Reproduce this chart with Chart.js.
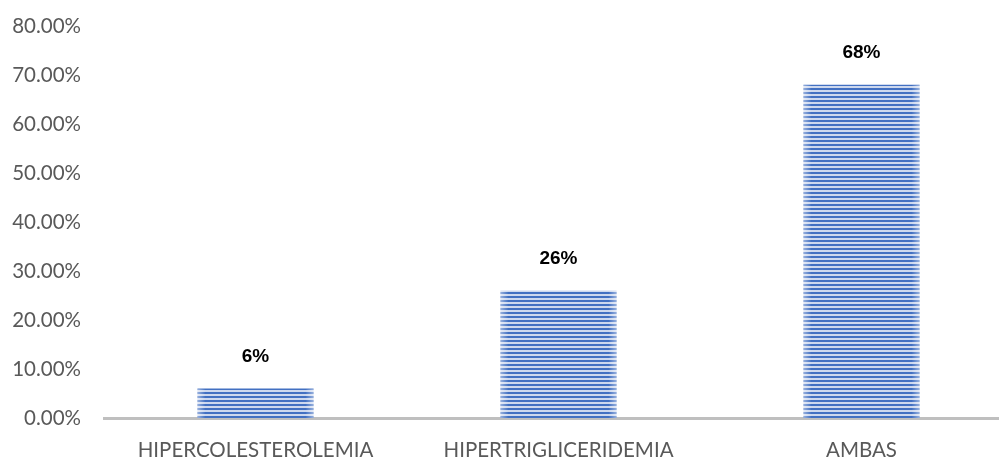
<!DOCTYPE html>
<html lang="es">
  <head>
    <meta charset="UTF-8" />
    <title>Dislipidemia</title>
    <script src="https://cdn.jsdelivr.net/npm/chart.js"></script>
    <style>
      html,
      body {
        margin: 0;
        padding: 0;
        background: #fff;
        overflow: hidden;
      }

      .wrap {
        width: 1013px;
        height: 460px;
        position: relative;
      }
    </style>
  </head>
  <body>
    <div class="wrap">
      <canvas id="chart"></canvas>
    </div>

    <script>
      const categories = ["HIPERCOLESTEROLEMIA", "HIPERTRIGLICERIDEMIA", "AMBAS"];
      const values = [6, 26, 68];
      const valueLabels = ["6%", "26%", "68%"];
      const yMax = 80;
      const yStep = 10;

      // horizontal stripes like the original fill
      function stripePattern(ctx) {
        const c = document.createElement("canvas");
        c.width = 1;
        c.height = 4;
        const p = c.getContext("2d");
        p.fillStyle = "#4270c2";
        p.fillRect(0, 0, 1, 2);
        p.fillStyle = "#cdd8ee";
        p.fillRect(0, 2, 1, 2);
        return ctx.createPattern(c, "repeat");
      }

      // light fade on the bar sides + value labels on top
      const barExtras = {
        id: "barExtras",
        afterDatasetsDraw(chart) {
          const ctx = chart.ctx;
          const meta = chart.getDatasetMeta(0);
          meta.data.forEach((bar, i) => {
            const left = bar.x - bar.width / 2;
            const right = bar.x + bar.width / 2;
            const top = bar.y;
            const h = bar.base - bar.y;
            let g = ctx.createLinearGradient(left, 0, left + 8, 0);
            g.addColorStop(0, "rgba(255,255,255,0.45)");
            g.addColorStop(1, "rgba(255,255,255,0)");
            ctx.fillStyle = g;
            ctx.fillRect(left, top, 8, h);
            g = ctx.createLinearGradient(right - 8, 0, right, 0);
            g.addColorStop(0, "rgba(255,255,255,0)");
            g.addColorStop(1, "rgba(255,255,255,0.45)");
            ctx.fillStyle = g;
            ctx.fillRect(right - 8, top, 8, h);

            ctx.save();
            ctx.fillStyle = "#000";
            ctx.font = "bold 19px 'Liberation Sans', Arial, sans-serif";
            ctx.textAlign = "center";
            ctx.textBaseline = "middle";
            ctx.fillText(valueLabels[i], bar.x, bar.y - 32);
            ctx.restore();
          });
        },
      };

      const ctx = document.getElementById("chart").getContext("2d");

      new Chart(ctx, {
        type: "bar",
        data: {
          labels: categories,
          datasets: [
            {
              data: values,
              backgroundColor: stripePattern(ctx),
              borderWidth: 0,
              barPercentage: 0.383,
              categoryPercentage: 1,
            },
          ],
        },
        options: {
          responsive: true,
          maintainAspectRatio: false,
          animation: false,
          layout: { padding: { top: 26, right: 0, bottom: 0, left: 0 } },
          plugins: {
            legend: { display: false },
            tooltip: { enabled: false },
          },
          scales: {
            x: {
              grid: { display: false, drawTicks: false },
              border: { display: true, color: "#bfbfbf", width: 3 },
              ticks: {
                color: "#595959",
                font: { family: "Lato", size: 20.5 },
                padding: 20,
                maxRotation: 0,
              },
              afterFit(scale) {
                scale.height = 42;
              },
            },
            y: {
              min: 0,
              max: yMax,
              grid: { display: false, drawTicks: false },
              border: { display: false },
              ticks: {
                stepSize: yStep,
                color: "#595959",
                font: { family: "Lato", size: 20.5 },
                padding: 23,
                callback: (v) => v.toFixed(2) + "%",
              },
              afterFit(scale) {
                scale.width = 104;
                scale.paddingTop = 0;
                scale.paddingBottom = 0;
              },
            },
          },
        },
        plugins: [barExtras],
      });
    </script>
  </body>
</html>
